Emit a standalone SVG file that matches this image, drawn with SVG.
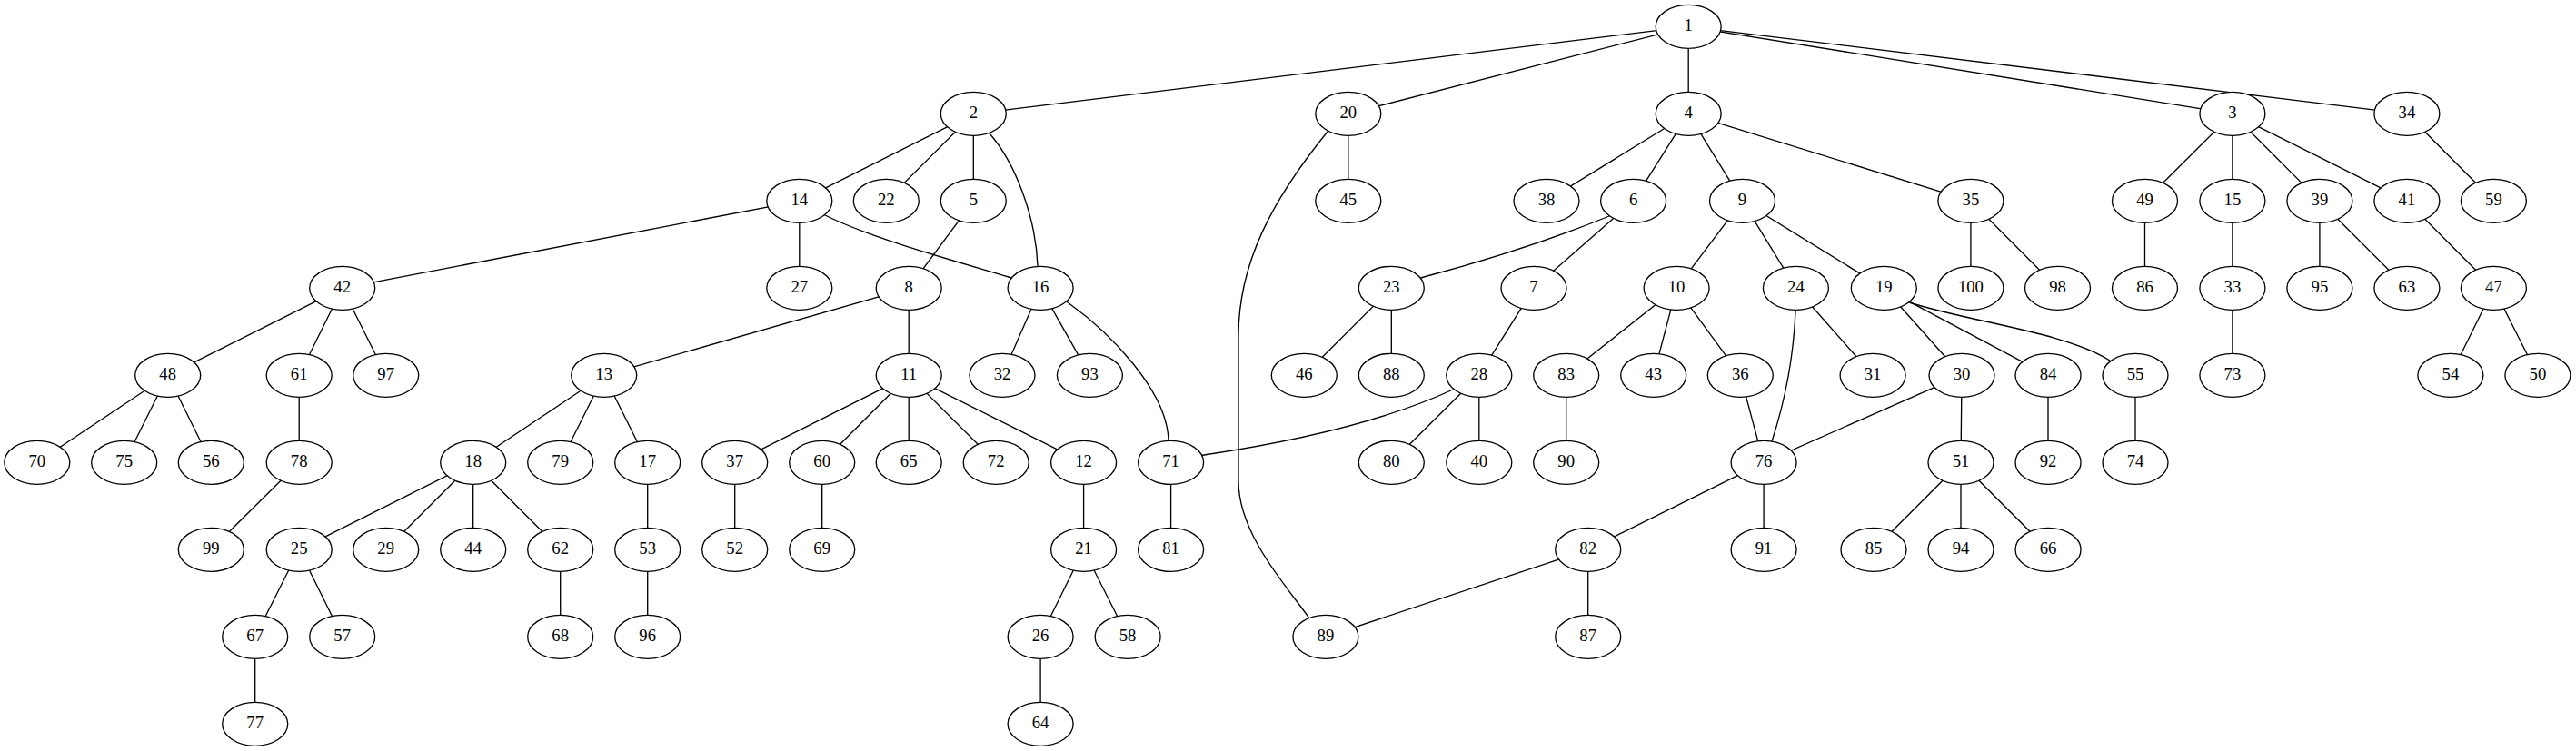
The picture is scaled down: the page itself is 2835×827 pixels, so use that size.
<svg xmlns="http://www.w3.org/2000/svg" width="2835" height="827" viewBox="0 0 2835 827">
<style>
.e path{fill:none;stroke:#000;stroke-width:1.33}
.n ellipse{fill:#fff;stroke:#000;stroke-width:1.33}
.n text{font-family:"Liberation Serif","Times New Roman",serif;font-size:18.67px;text-anchor:middle;fill:#000}
</style>
<rect width="2835" height="827" fill="#fff"/>
<g id="edges" class="e">
<path d="M1858.2,29.3L1071.3,125.3"/>
<path d="M1858.2,29.3L1483.8,125.3"/>
<path d="M1858.2,29.3L1858.2,125.3"/>
<path d="M1858.2,29.3L2456.9,125.3"/>
<path d="M1858.2,29.3L2648.9,125.3"/>
<path d="M1071.3,125.3L879.8,221.3"/>
<path d="M1071.3,125.3L975.3,221.3"/>
<path d="M1071.3,125.3L1071.3,221.3"/>
<path d="M1071.3,125.3L1089,147C1118,180 1140,240 1142,293L1145.1,317.3"/>
<path d="M879.8,221.3L376.7,317.3"/>
<path d="M879.8,221.3L879.8,317.3"/>
<path d="M879.8,221.3L908,237C960,263 1060,290 1110,305L1145.1,317.3"/>
<path d="M1071.3,221.3L1000.2,317.3"/>
<path d="M376.7,317.3L184.7,413.3"/>
<path d="M376.7,317.3L329.2,413.3"/>
<path d="M376.7,317.3L424.7,413.3"/>
<path d="M1000.2,317.3L664.7,413.3"/>
<path d="M1000.2,317.3L1000.2,413.3"/>
<path d="M1145.1,317.3L1103,413.3"/>
<path d="M1145.1,317.3L1199.4,413.3"/>
<path d="M1145.1,317.3L1175,333C1220,365 1285,430 1286,486L1288.6,509.3"/>
<path d="M184.7,413.3L40.8,509.3"/>
<path d="M184.7,413.3L136.7,509.3"/>
<path d="M184.7,413.3L232.3,509.3"/>
<path d="M329.2,413.3L329.2,509.3"/>
<path d="M329.2,509.3L232.3,605.3"/>
<path d="M664.7,413.3L520.7,509.3"/>
<path d="M664.7,413.3L616.7,509.3"/>
<path d="M664.7,413.3L712.7,509.3"/>
<path d="M520.7,509.3L329.2,605.3"/>
<path d="M520.7,509.3L424.7,605.3"/>
<path d="M520.7,509.3L520.7,605.3"/>
<path d="M520.7,509.3L616.7,605.3"/>
<path d="M329.2,605.3L280.7,701.3"/>
<path d="M329.2,605.3L376.7,701.3"/>
<path d="M280.7,701.3L280.7,797.3"/>
<path d="M616.7,605.3L616.7,701.3"/>
<path d="M712.7,509.3L712.7,605.3"/>
<path d="M712.7,605.3L712.7,701.3"/>
<path d="M1000.2,413.3L808.7,509.3"/>
<path d="M1000.2,413.3L904.7,509.3"/>
<path d="M1000.2,413.3L1000.2,509.3"/>
<path d="M1000.2,413.3L1096.2,509.3"/>
<path d="M1000.2,413.3L1192.6,509.3"/>
<path d="M808.7,509.3L808.7,605.3"/>
<path d="M904.7,509.3L904.7,605.3"/>
<path d="M1192.6,509.3L1192.6,605.3"/>
<path d="M1192.6,605.3L1145.1,701.3"/>
<path d="M1192.6,605.3L1241.1,701.3"/>
<path d="M1145.1,701.3L1145.1,797.3"/>
<path d="M1288.6,509.3L1288.6,605.3"/>
<path d="M1627.8,413.3L1599,429Q1500,475 1325,501L1288.6,509.3"/>
<path d="M1483.8,125.3L1483.8,221.3"/>
<path d="M1483.8,125.3L1461,145C1400,220 1363,290 1363,370L1363,530C1363,590 1420,650 1441,681L1458.9,701.3"/>
<path d="M1858.2,125.3L1702,221.3"/>
<path d="M1858.2,125.3L1797.6,221.3"/>
<path d="M1858.2,125.3L1917.5,221.3"/>
<path d="M1858.2,125.3L2168.9,221.3"/>
<path d="M1797.6,221.3L1771,238Q1680,275 1567,305L1531.3,317.3"/>
<path d="M1797.6,221.3L1688,317.3"/>
<path d="M1531.3,317.3L1435.3,413.3"/>
<path d="M1531.3,317.3L1531.3,413.3"/>
<path d="M1688,317.3L1627.8,413.3"/>
<path d="M1627.8,413.3L1531.3,509.3"/>
<path d="M1627.8,413.3L1627.8,509.3"/>
<path d="M1917.5,221.3L1845.1,317.3"/>
<path d="M1917.5,221.3L1976.4,317.3"/>
<path d="M1917.5,221.3L2073.3,317.3"/>
<path d="M1845.1,317.3L1723.7,413.3"/>
<path d="M1845.1,317.3L1819.7,413.3"/>
<path d="M1845.1,317.3L1915.3,413.3"/>
<path d="M1723.7,413.3L1723.7,509.3"/>
<path d="M1915.3,413.3L1941.1,509.3"/>
<path d="M1976.4,317.3L1976,343C1974,390 1965,440 1950,486L1941.1,509.3"/>
<path d="M1976.4,317.3L2061.1,413.3"/>
<path d="M2073.3,317.3L2159,413.3"/>
<path d="M2073.3,317.3L2254,413.3"/>
<path d="M2073.3,317.3L2101,333C2170,355 2270,365 2322,397L2350,413.3"/>
<path d="M2159,413.3L1941.1,509.3"/>
<path d="M2159,413.3L2158,509.3"/>
<path d="M1941.1,509.3L1747.7,605.3"/>
<path d="M1941.1,509.3L1941.1,605.3"/>
<path d="M1747.7,605.3L1458.9,701.3"/>
<path d="M1747.7,605.3L1747.7,701.3"/>
<path d="M2158,509.3L2062,605.3"/>
<path d="M2158,509.3L2158,605.3"/>
<path d="M2158,509.3L2254,605.3"/>
<path d="M2254,413.3L2254,509.3"/>
<path d="M2350,413.3L2350,509.3"/>
<path d="M2168.9,221.3L2168.9,317.3"/>
<path d="M2168.9,221.3L2264.5,317.3"/>
<path d="M2456.9,125.3L2360.5,221.3"/>
<path d="M2456.9,125.3L2456.9,221.3"/>
<path d="M2456.9,125.3L2552.9,221.3"/>
<path d="M2456.9,125.3L2648.9,221.3"/>
<path d="M2360.5,221.3L2360.5,317.3"/>
<path d="M2456.9,221.3L2456.9,317.3"/>
<path d="M2456.9,317.3L2456.9,413.3"/>
<path d="M2552.9,221.3L2552.9,317.3"/>
<path d="M2552.9,221.3L2648.9,317.3"/>
<path d="M2648.9,221.3L2744.4,317.3"/>
<path d="M2744.4,317.3L2696.9,413.3"/>
<path d="M2744.4,317.3L2792.9,413.3"/>
<path d="M2648.9,125.3L2744.4,221.3"/>
</g>
<g id="node1" class="n"><ellipse cx="1858.2" cy="29.3" rx="36" ry="24"/><text x="1858.2" y="34.2">1</text></g>
<g id="node2" class="n"><ellipse cx="1071.3" cy="125.3" rx="36" ry="24"/><text x="1071.3" y="130.2">2</text></g>
<g id="node20" class="n"><ellipse cx="1483.8" cy="125.3" rx="36" ry="24"/><text x="1483.8" y="130.2">20</text></g>
<g id="node4" class="n"><ellipse cx="1858.2" cy="125.3" rx="36" ry="24"/><text x="1858.2" y="130.2">4</text></g>
<g id="node3" class="n"><ellipse cx="2456.9" cy="125.3" rx="36" ry="24"/><text x="2456.9" y="130.2">3</text></g>
<g id="node34" class="n"><ellipse cx="2648.9" cy="125.3" rx="36" ry="24"/><text x="2648.9" y="130.2">34</text></g>
<g id="node14" class="n"><ellipse cx="879.8" cy="221.3" rx="36" ry="24"/><text x="879.8" y="226.2">14</text></g>
<g id="node22" class="n"><ellipse cx="975.3" cy="221.3" rx="36" ry="24"/><text x="975.3" y="226.2">22</text></g>
<g id="node5" class="n"><ellipse cx="1071.3" cy="221.3" rx="36" ry="24"/><text x="1071.3" y="226.2">5</text></g>
<g id="node45" class="n"><ellipse cx="1483.8" cy="221.3" rx="36" ry="24"/><text x="1483.8" y="226.2">45</text></g>
<g id="node38" class="n"><ellipse cx="1702" cy="221.3" rx="36" ry="24"/><text x="1702" y="226.2">38</text></g>
<g id="node6" class="n"><ellipse cx="1797.6" cy="221.3" rx="36" ry="24"/><text x="1797.6" y="226.2">6</text></g>
<g id="node9" class="n"><ellipse cx="1917.5" cy="221.3" rx="36" ry="24"/><text x="1917.5" y="226.2">9</text></g>
<g id="node35" class="n"><ellipse cx="2168.9" cy="221.3" rx="36" ry="24"/><text x="2168.9" y="226.2">35</text></g>
<g id="node49" class="n"><ellipse cx="2360.5" cy="221.3" rx="36" ry="24"/><text x="2360.5" y="226.2">49</text></g>
<g id="node15" class="n"><ellipse cx="2456.9" cy="221.3" rx="36" ry="24"/><text x="2456.9" y="226.2">15</text></g>
<g id="node39" class="n"><ellipse cx="2552.9" cy="221.3" rx="36" ry="24"/><text x="2552.9" y="226.2">39</text></g>
<g id="node41" class="n"><ellipse cx="2648.9" cy="221.3" rx="36" ry="24"/><text x="2648.9" y="226.2">41</text></g>
<g id="node59" class="n"><ellipse cx="2744.4" cy="221.3" rx="36" ry="24"/><text x="2744.4" y="226.2">59</text></g>
<g id="node42" class="n"><ellipse cx="376.7" cy="317.3" rx="36" ry="24"/><text x="376.7" y="322.2">42</text></g>
<g id="node27" class="n"><ellipse cx="879.8" cy="317.3" rx="36" ry="24"/><text x="879.8" y="322.2">27</text></g>
<g id="node8" class="n"><ellipse cx="1000.2" cy="317.3" rx="36" ry="24"/><text x="1000.2" y="322.2">8</text></g>
<g id="node16" class="n"><ellipse cx="1145.1" cy="317.3" rx="36" ry="24"/><text x="1145.1" y="322.2">16</text></g>
<g id="node23" class="n"><ellipse cx="1531.3" cy="317.3" rx="36" ry="24"/><text x="1531.3" y="322.2">23</text></g>
<g id="node7" class="n"><ellipse cx="1688" cy="317.3" rx="36" ry="24"/><text x="1688" y="322.2">7</text></g>
<g id="node10" class="n"><ellipse cx="1845.1" cy="317.3" rx="36" ry="24"/><text x="1845.1" y="322.2">10</text></g>
<g id="node24" class="n"><ellipse cx="1976.4" cy="317.3" rx="36" ry="24"/><text x="1976.4" y="322.2">24</text></g>
<g id="node19" class="n"><ellipse cx="2073.3" cy="317.3" rx="36" ry="24"/><text x="2073.3" y="322.2">19</text></g>
<g id="node100" class="n"><ellipse cx="2168.9" cy="317.3" rx="36" ry="24"/><text x="2168.9" y="322.2">100</text></g>
<g id="node98" class="n"><ellipse cx="2264.5" cy="317.3" rx="36" ry="24"/><text x="2264.5" y="322.2">98</text></g>
<g id="node86" class="n"><ellipse cx="2360.5" cy="317.3" rx="36" ry="24"/><text x="2360.5" y="322.2">86</text></g>
<g id="node33" class="n"><ellipse cx="2456.9" cy="317.3" rx="36" ry="24"/><text x="2456.9" y="322.2">33</text></g>
<g id="node95" class="n"><ellipse cx="2552.9" cy="317.3" rx="36" ry="24"/><text x="2552.9" y="322.2">95</text></g>
<g id="node63" class="n"><ellipse cx="2648.9" cy="317.3" rx="36" ry="24"/><text x="2648.9" y="322.2">63</text></g>
<g id="node47" class="n"><ellipse cx="2744.4" cy="317.3" rx="36" ry="24"/><text x="2744.4" y="322.2">47</text></g>
<g id="node48" class="n"><ellipse cx="184.7" cy="413.3" rx="36" ry="24"/><text x="184.7" y="418.2">48</text></g>
<g id="node61" class="n"><ellipse cx="329.2" cy="413.3" rx="36" ry="24"/><text x="329.2" y="418.2">61</text></g>
<g id="node97" class="n"><ellipse cx="424.7" cy="413.3" rx="36" ry="24"/><text x="424.7" y="418.2">97</text></g>
<g id="node13" class="n"><ellipse cx="664.7" cy="413.3" rx="36" ry="24"/><text x="664.7" y="418.2">13</text></g>
<g id="node11" class="n"><ellipse cx="1000.2" cy="413.3" rx="36" ry="24"/><text x="1000.2" y="418.2">11</text></g>
<g id="node32" class="n"><ellipse cx="1103" cy="413.3" rx="36" ry="24"/><text x="1103" y="418.2">32</text></g>
<g id="node93" class="n"><ellipse cx="1199.4" cy="413.3" rx="36" ry="24"/><text x="1199.4" y="418.2">93</text></g>
<g id="node46" class="n"><ellipse cx="1435.3" cy="413.3" rx="36" ry="24"/><text x="1435.3" y="418.2">46</text></g>
<g id="node88" class="n"><ellipse cx="1531.3" cy="413.3" rx="36" ry="24"/><text x="1531.3" y="418.2">88</text></g>
<g id="node28" class="n"><ellipse cx="1627.8" cy="413.3" rx="36" ry="24"/><text x="1627.8" y="418.2">28</text></g>
<g id="node83" class="n"><ellipse cx="1723.7" cy="413.3" rx="36" ry="24"/><text x="1723.7" y="418.2">83</text></g>
<g id="node43" class="n"><ellipse cx="1819.7" cy="413.3" rx="36" ry="24"/><text x="1819.7" y="418.2">43</text></g>
<g id="node36" class="n"><ellipse cx="1915.3" cy="413.3" rx="36" ry="24"/><text x="1915.3" y="418.2">36</text></g>
<g id="node31" class="n"><ellipse cx="2061.1" cy="413.3" rx="36" ry="24"/><text x="2061.1" y="418.2">31</text></g>
<g id="node30" class="n"><ellipse cx="2159" cy="413.3" rx="36" ry="24"/><text x="2159" y="418.2">30</text></g>
<g id="node84" class="n"><ellipse cx="2254" cy="413.3" rx="36" ry="24"/><text x="2254" y="418.2">84</text></g>
<g id="node55" class="n"><ellipse cx="2350" cy="413.3" rx="36" ry="24"/><text x="2350" y="418.2">55</text></g>
<g id="node73" class="n"><ellipse cx="2456.9" cy="413.3" rx="36" ry="24"/><text x="2456.9" y="418.2">73</text></g>
<g id="node54" class="n"><ellipse cx="2696.9" cy="413.3" rx="36" ry="24"/><text x="2696.9" y="418.2">54</text></g>
<g id="node50" class="n"><ellipse cx="2792.9" cy="413.3" rx="36" ry="24"/><text x="2792.9" y="418.2">50</text></g>
<g id="node70" class="n"><ellipse cx="40.8" cy="509.3" rx="36" ry="24"/><text x="40.8" y="514.2">70</text></g>
<g id="node75" class="n"><ellipse cx="136.7" cy="509.3" rx="36" ry="24"/><text x="136.7" y="514.2">75</text></g>
<g id="node56" class="n"><ellipse cx="232.3" cy="509.3" rx="36" ry="24"/><text x="232.3" y="514.2">56</text></g>
<g id="node78" class="n"><ellipse cx="329.2" cy="509.3" rx="36" ry="24"/><text x="329.2" y="514.2">78</text></g>
<g id="node18" class="n"><ellipse cx="520.7" cy="509.3" rx="36" ry="24"/><text x="520.7" y="514.2">18</text></g>
<g id="node79" class="n"><ellipse cx="616.7" cy="509.3" rx="36" ry="24"/><text x="616.7" y="514.2">79</text></g>
<g id="node17" class="n"><ellipse cx="712.7" cy="509.3" rx="36" ry="24"/><text x="712.7" y="514.2">17</text></g>
<g id="node37" class="n"><ellipse cx="808.7" cy="509.3" rx="36" ry="24"/><text x="808.7" y="514.2">37</text></g>
<g id="node60" class="n"><ellipse cx="904.7" cy="509.3" rx="36" ry="24"/><text x="904.7" y="514.2">60</text></g>
<g id="node65" class="n"><ellipse cx="1000.2" cy="509.3" rx="36" ry="24"/><text x="1000.2" y="514.2">65</text></g>
<g id="node72" class="n"><ellipse cx="1096.2" cy="509.3" rx="36" ry="24"/><text x="1096.2" y="514.2">72</text></g>
<g id="node12" class="n"><ellipse cx="1192.6" cy="509.3" rx="36" ry="24"/><text x="1192.6" y="514.2">12</text></g>
<g id="node71" class="n"><ellipse cx="1288.6" cy="509.3" rx="36" ry="24"/><text x="1288.6" y="514.2">71</text></g>
<g id="node80" class="n"><ellipse cx="1531.3" cy="509.3" rx="36" ry="24"/><text x="1531.3" y="514.2">80</text></g>
<g id="node40" class="n"><ellipse cx="1627.8" cy="509.3" rx="36" ry="24"/><text x="1627.8" y="514.2">40</text></g>
<g id="node90" class="n"><ellipse cx="1723.7" cy="509.3" rx="36" ry="24"/><text x="1723.7" y="514.2">90</text></g>
<g id="node76" class="n"><ellipse cx="1941.1" cy="509.3" rx="36" ry="24"/><text x="1941.1" y="514.2">76</text></g>
<g id="node51" class="n"><ellipse cx="2158" cy="509.3" rx="36" ry="24"/><text x="2158" y="514.2">51</text></g>
<g id="node92" class="n"><ellipse cx="2254" cy="509.3" rx="36" ry="24"/><text x="2254" y="514.2">92</text></g>
<g id="node74" class="n"><ellipse cx="2350" cy="509.3" rx="36" ry="24"/><text x="2350" y="514.2">74</text></g>
<g id="node99" class="n"><ellipse cx="232.3" cy="605.3" rx="36" ry="24"/><text x="232.3" y="610.2">99</text></g>
<g id="node25" class="n"><ellipse cx="329.2" cy="605.3" rx="36" ry="24"/><text x="329.2" y="610.2">25</text></g>
<g id="node29" class="n"><ellipse cx="424.7" cy="605.3" rx="36" ry="24"/><text x="424.7" y="610.2">29</text></g>
<g id="node44" class="n"><ellipse cx="520.7" cy="605.3" rx="36" ry="24"/><text x="520.7" y="610.2">44</text></g>
<g id="node62" class="n"><ellipse cx="616.7" cy="605.3" rx="36" ry="24"/><text x="616.7" y="610.2">62</text></g>
<g id="node53" class="n"><ellipse cx="712.7" cy="605.3" rx="36" ry="24"/><text x="712.7" y="610.2">53</text></g>
<g id="node52" class="n"><ellipse cx="808.7" cy="605.3" rx="36" ry="24"/><text x="808.7" y="610.2">52</text></g>
<g id="node69" class="n"><ellipse cx="904.7" cy="605.3" rx="36" ry="24"/><text x="904.7" y="610.2">69</text></g>
<g id="node21" class="n"><ellipse cx="1192.6" cy="605.3" rx="36" ry="24"/><text x="1192.6" y="610.2">21</text></g>
<g id="node81" class="n"><ellipse cx="1288.6" cy="605.3" rx="36" ry="24"/><text x="1288.6" y="610.2">81</text></g>
<g id="node82" class="n"><ellipse cx="1747.7" cy="605.3" rx="36" ry="24"/><text x="1747.7" y="610.2">82</text></g>
<g id="node91" class="n"><ellipse cx="1941.1" cy="605.3" rx="36" ry="24"/><text x="1941.1" y="610.2">91</text></g>
<g id="node85" class="n"><ellipse cx="2062" cy="605.3" rx="36" ry="24"/><text x="2062" y="610.2">85</text></g>
<g id="node94" class="n"><ellipse cx="2158" cy="605.3" rx="36" ry="24"/><text x="2158" y="610.2">94</text></g>
<g id="node66" class="n"><ellipse cx="2254" cy="605.3" rx="36" ry="24"/><text x="2254" y="610.2">66</text></g>
<g id="node67" class="n"><ellipse cx="280.7" cy="701.3" rx="36" ry="24"/><text x="280.7" y="706.2">67</text></g>
<g id="node57" class="n"><ellipse cx="376.7" cy="701.3" rx="36" ry="24"/><text x="376.7" y="706.2">57</text></g>
<g id="node68" class="n"><ellipse cx="616.7" cy="701.3" rx="36" ry="24"/><text x="616.7" y="706.2">68</text></g>
<g id="node96" class="n"><ellipse cx="712.7" cy="701.3" rx="36" ry="24"/><text x="712.7" y="706.2">96</text></g>
<g id="node26" class="n"><ellipse cx="1145.1" cy="701.3" rx="36" ry="24"/><text x="1145.1" y="706.2">26</text></g>
<g id="node58" class="n"><ellipse cx="1241.1" cy="701.3" rx="36" ry="24"/><text x="1241.1" y="706.2">58</text></g>
<g id="node89" class="n"><ellipse cx="1458.9" cy="701.3" rx="36" ry="24"/><text x="1458.9" y="706.2">89</text></g>
<g id="node87" class="n"><ellipse cx="1747.7" cy="701.3" rx="36" ry="24"/><text x="1747.7" y="706.2">87</text></g>
<g id="node77" class="n"><ellipse cx="280.7" cy="797.3" rx="36" ry="24"/><text x="280.7" y="802.2">77</text></g>
<g id="node64" class="n"><ellipse cx="1145.1" cy="797.3" rx="36" ry="24"/><text x="1145.1" y="802.2">64</text></g>
</svg>
